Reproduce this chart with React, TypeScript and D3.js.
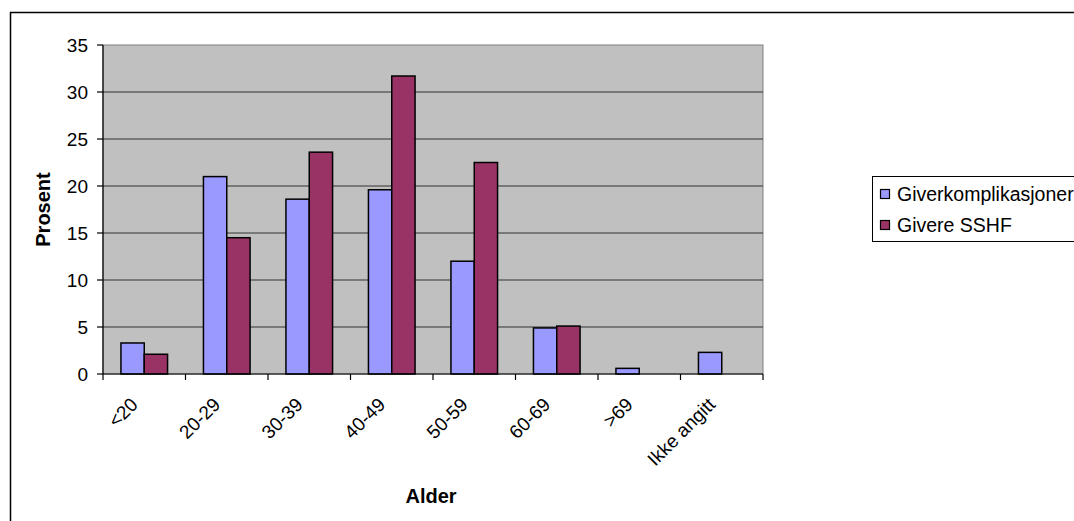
import React from "react";
import * as d3 from "d3";

const categories = ["<20", "20-29", "30-39", "40-49", "50-59", "60-69", ">69", "Ikke angitt"];
const seriesNames = ["Giverkomplikasjoner", "Givere SSHF"];
const giverkomplikasjoner = [3.3, 21.0, 18.6, 19.6, 12.0, 4.9, 0.6, 2.3];
const givereSSHF = [2.1, 14.5, 23.6, 31.7, 22.5, 5.1, 0, 0];
const yTicks = [0, 5, 10, 15, 20, 25, 30, 35];
const colors = ["#9999FF", "#993366"];

const W = 1074;
const H = 521;
const plot = { left: 103, right: 763, top: 45, bottom: 374 };
const font = "'Liberation Sans', Arial, sans-serif";

export default function App() {
  const x = d3
    .scaleBand<string>()
    .domain(categories)
    .range([plot.left, plot.right])
    .paddingInner(0)
    .paddingOuter(0);
  const inner = d3
    .scaleBand<number>()
    .domain([0, 1])
    .range([0, x.bandwidth()])
    .paddingInner(0)
    .paddingOuter(0.77);
  const y = d3.scaleLinear().domain([0, 35]).range([plot.bottom, plot.top]);
  const series = [giverkomplikasjoner, givereSSHF];
  const boundaries = categories.map((c) => x(c)!).concat([plot.right]);

  return (
    <svg
      width={W}
      height={H}
      style={{ position: "absolute", left: 0, top: 0, background: "#fff" }}
      fontFamily={font}
    >
      {/* chart frame */}
      <rect x={10.5} y={12.5} width={1100} height={600} fill="#fff" stroke="#000" strokeWidth={1.5} />

      {/* plot area */}
      <rect
        x={plot.left}
        y={plot.top}
        width={plot.right - plot.left}
        height={plot.bottom - plot.top}
        fill="#C0C0C0"
        stroke="#808080"
        strokeWidth={1}
      />
      {yTicks
        .filter((t) => t > 0 && t < 35)
        .map((t) => (
          <line key={t} x1={plot.left} x2={plot.right} y1={y(t)} y2={y(t)} stroke="#333" strokeWidth={1} />
        ))}

      {/* bars */}
      {categories.map((c, i) => (
        <g key={c}>
          {series.map((s, k) =>
            s[i] > 0 ? (
              <rect
                key={k}
                x={x(c)! + inner(k)!}
                y={y(s[i])}
                width={inner.bandwidth()}
                height={y(0) - y(s[i])}
                fill={colors[k]}
                stroke="#000"
                strokeWidth={1.5}
              />
            ) : null
          )}
        </g>
      ))}

      {/* y axis */}
      <line x1={plot.left} x2={plot.left} y1={plot.top} y2={plot.bottom} stroke="#000" strokeWidth={1.2} />
      {yTicks.map((t) => (
        <g key={t}>
          <line x1={plot.left - 6} x2={plot.left} y1={y(t)} y2={y(t)} stroke="#000" strokeWidth={1.2} />
          <text x={plot.left - 15} y={y(t)} dy="0.35em" textAnchor="end" fontSize={19}>
            {t}
          </text>
        </g>
      ))}

      {/* x axis */}
      <line x1={plot.left} x2={plot.right} y1={plot.bottom} y2={plot.bottom} stroke="#000" strokeWidth={1.2} />
      {boundaries.map((b, i) => (
        <line key={i} x1={b} x2={b} y1={plot.bottom} y2={plot.bottom + 6} stroke="#000" strokeWidth={1.2} />
      ))}
      {categories.map((c) => (
        <text
          key={c}
          transform={`translate(${x(c)! + x.bandwidth() / 2 - 10},${plot.bottom + 27}) rotate(-45)`}
          textAnchor="end"
          dy="0.35em"
          fontSize={19}
        >
          {c}
        </text>
      ))}

      {/* axis titles */}
      <text x={431} y={503} textAnchor="middle" fontSize={20} fontWeight="bold">
        Alder
      </text>
      <text
        transform={`translate(50,${(plot.top + plot.bottom) / 2}) rotate(-90)`}
        textAnchor="middle"
        fontSize={20}
        fontWeight="bold"
      >
        Prosent
      </text>

      {/* legend */}
      <rect x={872.5} y={176.5} width={260} height={65} fill="#fff" stroke="#000" strokeWidth={1} />
      {seriesNames.map((n, k) => (
        <g key={n} transform={`translate(880,${194 + k * 31})`}>
          <rect x={0.5} y={-4.5} width={9} height={9} fill={colors[k]} stroke="#000" strokeWidth={1.2} />
          <text x={17} y={0} dy="0.35em" fontSize={19.5}>
            {n}
          </text>
        </g>
      ))}
    </svg>
  );
}
